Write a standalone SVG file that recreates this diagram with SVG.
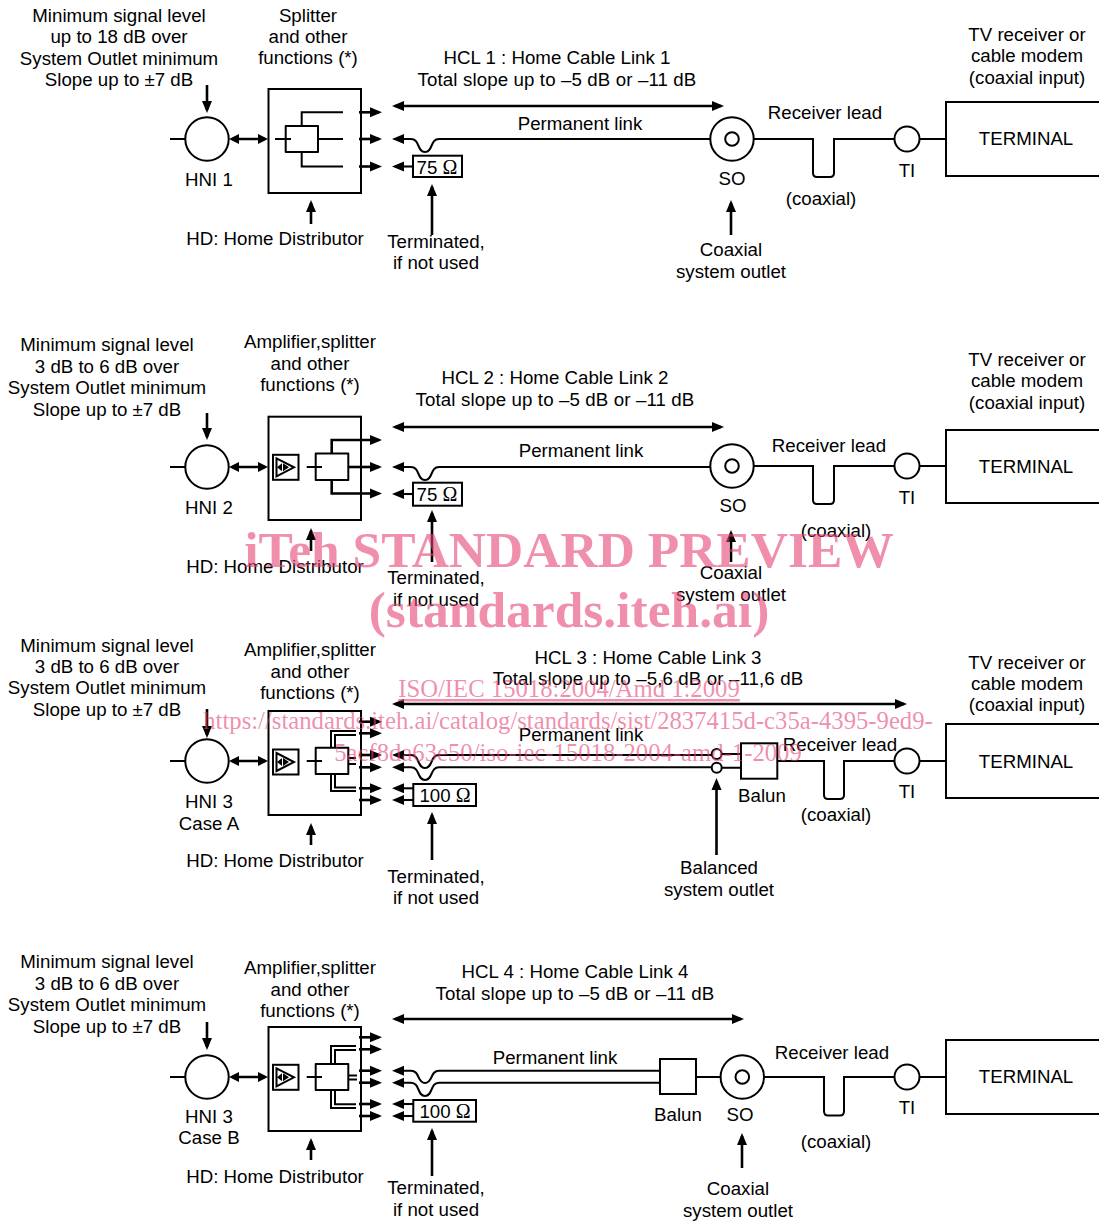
<svg xmlns="http://www.w3.org/2000/svg" width="1099" height="1221" viewBox="0 0 1099 1221">
<style>
text{font-family:"Liberation Sans",Arial,sans-serif;font-size:18.7px;fill:#000;text-anchor:middle}
.om{font-family:"Liberation Serif","Times New Roman",serif;font-size:20px}
.sp{letter-spacing:.12px}
.l{fill:none;stroke:#000;stroke-width:2}
.b{fill:#fff;stroke:#000;stroke-width:2}
.t{fill:none;stroke:#000;stroke-width:2;stroke-linejoin:round}
.a{fill:none;stroke:#000;stroke-width:2.6;marker-end:url(#ah)}
.aa{fill:none;stroke:#000;stroke-width:2.6;marker-end:url(#ah);marker-start:url(#ah)}
.as{fill:none;stroke:#000;stroke-width:2.6;marker-end:url(#as);marker-start:url(#as)}
.s{fill:none;stroke:#000;stroke-width:2.1;marker-start:url(#ah)}
.wm{font-family:"Liberation Serif","Times New Roman",serif;fill:#e64475;fill-opacity:.6}
.w1{font-size:51.500px;font-weight:bold}
.w2{font-size:24.700px}
</style>
<defs>
<marker id="ah" markerUnits="userSpaceOnUse" markerWidth="14" markerHeight="12" refX="9" refY="5.500" orient="auto-start-reverse"><path d="M0,0.500L12,5.500L0,10.500z" fill="#000"/></marker>
<marker id="as" markerUnits="userSpaceOnUse" markerWidth="12" markerHeight="12" refX="7" refY="5.500" orient="auto-start-reverse"><path d="M0,0.500L10,5.500L0,10.500z" fill="#000"/></marker>
<g id="amp"><rect class="b" x="273" y="-12.500" width="25.500" height="25"/><path class="l" d="M276.500,-9L294,0L276.500,9z"/><path d="M277,0L282,-4V4zM289,0L283,-4V4z" fill="#000"/></g>
</defs>

<g id="hcl1-block">
<g id="hni1"><circle class="b" cx="207" cy="139" r="21.700"/><text x="209" y="186">HNI 1</text></g>
<g id="hd1"><rect class="b" x="268.500" y="89" width="92.500" height="104"/>
<path class="l" d="M275,139H291M318,139H343M301.700,126V112.300H343M301.700,152V166.500H343"/><rect class="t" x="285.700" y="126" width="32.300" height="26"/>
<text x="275" y="245">HD: Home Distributor</text></g>
<g id="term1a"><rect class="b" x="413" y="155.700" width="49" height="21.300"/><text x="437" y="174">75 <tspan class="om">Ω</tspan></text></g>
<g id="so1"><circle class="b" cx="732" cy="139" r="21.700"/><circle class="b" cx="732" cy="139" r="6.800"/><text x="732" y="185">SO</text></g>
<g id="ti1"><circle class="b" cx="907" cy="139" r="12.500"/><text x="907" y="177">TI</text></g>
<g id="terminal1"><rect class="b" x="946" y="102" width="160" height="74"/><text x="1026" y="145">TERMINAL</text></g>
<text x="119" y="22">Minimum signal level</text><text x="119" y="43">up to 18 dB over</text><text x="119" y="65">System Outlet minimum</text><text x="119" y="86">Slope up to ±7 dB</text>
<text x="308" y="22">Splitter</text><text x="308" y="43">and other</text><text x="308" y="64">functions (*)</text>
<text x="557" y="64">HCL 1 : Home Cable Link 1</text><text class="sp" x="557" y="86">Total slope up to –5 dB or –11 dB</text>
<text x="580" y="130">Permanent link</text><text x="825" y="119">Receiver lead</text><text x="821" y="205">(coaxial)</text>
<text x="1027" y="41">TV receiver or</text><text x="1027" y="62">cable modem</text><text x="1027" y="84">(coaxial input)</text>
<text x="436" y="248">Terminated,</text><text x="436" y="269">if not used</text><text x="731" y="256">Coaxial</text><text x="731" y="278">system outlet</text>
</g>

<g id="hcl2-block">
<g id="hni2"><circle class="b" cx="207" cy="467" r="21.700"/><text x="209" y="514">HNI 2</text></g>
<g id="hd2"><rect class="b" x="268.500" y="416.700" width="92.500" height="103.300"/>
<use href="#amp" y="467.300"/><path class="l" d="M306.700,467H322"/><rect class="t" x="315.700" y="453.500" width="32.600" height="26.500"/>
<text x="275" y="573">HD: Home Distributor</text></g>
<g id="term2a"><rect class="b" x="413" y="482.700" width="49" height="23"/><text x="437" y="501">75 <tspan class="om">Ω</tspan></text></g>
<g id="so2"><circle class="b" cx="732" cy="466" r="21.700"/><circle class="b" cx="732" cy="466" r="6.800"/><text x="733" y="512">SO</text></g>
<g id="ti2"><circle class="b" cx="907" cy="466" r="12.500"/><text x="907" y="504">TI</text></g>
<g id="terminal2"><rect class="b" x="946" y="430" width="160" height="73"/><text x="1026" y="473">TERMINAL</text></g>
<text x="107" y="351">Minimum signal level</text><text x="107" y="373">3 dB to 6 dB over</text><text x="107" y="394">System Outlet minimum</text><text x="107" y="416">Slope up to ±7 dB</text>
<text x="310" y="348">Amplifier,splitter</text><text x="310" y="370">and other</text><text x="310" y="391">functions (*)</text>
<text x="555" y="384">HCL 2 : Home Cable Link 2</text><text class="sp" x="555" y="406">Total slope up to –5 dB or –11 dB</text>
<text x="581" y="457">Permanent link</text><text x="829" y="452">Receiver lead</text><text x="836" y="537">(coaxial)</text>
<text x="1027" y="366">TV receiver or</text><text x="1027" y="387">cable modem</text><text x="1027" y="409">(coaxial input)</text>
<text x="436" y="584">Terminated,</text><text x="436" y="606">if not used</text><text x="731" y="579">Coaxial</text><text x="731" y="601">system outlet</text>
</g>

<g id="hcl3-block">
<g id="hni3a"><circle class="b" cx="207" cy="761" r="21.700"/><text x="209" y="808">HNI 3</text><text x="209" y="830">Case A</text></g>
<g id="hd3"><rect class="b" x="268.500" y="711" width="92.500" height="104"/>
<path class="l" d="M331,748V731H356M335,748V735H356M331,774V791H356M335,774V787.500H356M348,758H356M348,764H356M306.700,761H322"/>
<use href="#amp" y="762"/><rect class="t" x="315.700" y="747.700" width="32.600" height="26.300"/>
<text x="275" y="867">HD: Home Distributor</text></g>
<g id="term3a"><rect class="b" x="413.300" y="784" width="62.700" height="22"/><text x="445" y="802">100 <tspan class="om">Ω</tspan></text></g>
<g id="balun3"><rect class="b" x="741" y="743.300" width="36.300" height="35.400"/><text x="762" y="802">Balun</text></g>
<g id="ti3"><circle class="b" cx="907" cy="761" r="12.500"/><text x="907" y="798">TI</text></g>
<g id="terminal3"><rect class="b" x="946" y="724" width="160" height="74"/><text x="1026" y="768">TERMINAL</text></g>
<text x="107" y="652">Minimum signal level</text><text x="107" y="673">3 dB to 6 dB over</text><text x="107" y="694">System Outlet minimum</text><text x="107" y="716">Slope up to ±7 dB</text>
<text x="310" y="656">Amplifier,splitter</text><text x="310" y="678">and other</text><text x="310" y="699">functions (*)</text>
<text x="648" y="664">HCL 3 : Home Cable Link 3</text><text class="sp" x="648" y="685">Total slope up to –5,6 dB or –11,6 dB</text>
<text x="581" y="741">Permanent link</text><text x="840" y="751">Receiver lead</text><text x="836" y="821">(coaxial)</text>
<text x="1027" y="669">TV receiver or</text><text x="1027" y="690">cable modem</text><text x="1027" y="711">(coaxial input)</text>
<text x="436" y="883">Terminated,</text><text x="436" y="904">if not used</text><text x="719" y="874">Balanced</text><text x="719" y="896">system outlet</text>
</g>

<g id="hcl4-block">
<g id="hni3b"><circle class="b" cx="207" cy="1077" r="21.700"/><text x="209" y="1123">HNI 3</text><text x="209" y="1144">Case B</text></g>
<g id="hd4"><rect class="b" x="268.500" y="1027" width="92.500" height="104"/>
<path class="l" d="M331,1064V1046H356M335,1064V1050H356M331,1090V1108H356M335,1090V1104.300H356M348,1075.500H357M348,1079.500H357M306.700,1077H322"/>
<use href="#amp" y="1077.300"/><rect class="t" x="315.700" y="1064" width="32.600" height="26"/>
<text x="275" y="1183">HD: Home Distributor</text></g>
<g id="term4a"><rect class="b" x="413.300" y="1100" width="62.700" height="21.700"/><text x="445" y="1118">100 <tspan class="om">Ω</tspan></text></g>
<g id="balun4"><rect class="b" x="660" y="1059" width="36" height="35"/><text x="678" y="1121">Balun</text></g>
<g id="so4"><circle class="b" cx="742.300" cy="1077" r="21.700"/><circle class="b" cx="742.300" cy="1077" r="6.800"/><text x="740" y="1121">SO</text></g>
<g id="ti4"><circle class="b" cx="907" cy="1077" r="12.500"/><text x="907" y="1114">TI</text></g>
<g id="terminal4"><rect class="b" x="946" y="1040" width="160" height="74"/><text x="1026" y="1083">TERMINAL</text></g>
<text x="107" y="968">Minimum signal level</text><text x="107" y="990">3 dB to 6 dB over</text><text x="107" y="1011">System Outlet minimum</text><text x="107" y="1033">Slope up to ±7 dB</text>
<text x="310" y="974">Amplifier,splitter</text><text x="310" y="996">and other</text><text x="310" y="1017">functions (*)</text>
<text x="575" y="978">HCL 4 : Home Cable Link 4</text><text class="sp" x="575" y="1000">Total slope up to –5 dB or –11 dB</text>
<text x="555" y="1064">Permanent link</text><text x="832" y="1059">Receiver lead</text><text x="836" y="1148">(coaxial)</text>
<text x="436" y="1194">Terminated,</text><text x="436" y="1216">if not used</text><text x="738" y="1195">Coaxial</text><text x="738" y="1217">system outlet</text>
</g>

<g id="connectors">
<!-- panel 1 -->
<path class="l" d="M170,139H186"/>
<path class="a" d="M207,85V110"/>
<path class="as" d="M232,139H265"/>
<path class="a" d="M359,112.300H379"/><path class="a" d="M359,139H379"/><path class="a" d="M359,166.500H379"/>
<path class="aa" d="M395,106H721"/>
<path class="s" d="M395,139H411C420,139 417,152 425,152C433,152 430,139 439,139H711"/>
<path class="s" d="M395,166.500H413"/>
<path class="a" d="M432,235V187"/>
<path class="a" d="M311,224V203"/>
<path class="a" d="M731,235V203"/>
<path class="l" d="M753,139H813V173Q813,177 817,177H830Q834,177 834,173V139H895M919,139H946"/>
<!-- panel 2 -->
<path class="l" d="M170,467H186"/>
<path class="a" d="M207,413V437"/>
<path class="as" d="M232,467H265"/>
<path class="a" d="M331.700,453V440H379"/><path class="a" d="M348,467H379"/><path class="a" d="M331.700,480V493.500H379"/>
<path class="aa" d="M395,427H721"/>
<path class="s" d="M395,467H411C420,467 417,480 425,480C433,480 430,467 439,467H711"/>
<path class="s" d="M395,494H413"/>
<path class="a" d="M432,562V513"/>
<path class="a" d="M311,551V531"/>
<path class="a" d="M731,562V533"/>
<path class="l" d="M753,466H813V500Q813,504 817,504H830Q834,504 834,500V466H895M919,466H946"/>
<!-- panel 3 -->
<path class="l" d="M170,761H186"/>
<path class="a" d="M207,709V735"/>
<path class="as" d="M232,761H265"/>
<path class="a" d="M359,721.700H379"/><path class="a" d="M359,733.300H379"/><path class="a" d="M359,755H379"/><path class="a" d="M359,767.300H379"/><path class="a" d="M359,788.300H379"/><path class="a" d="M359,800H379"/>
<path class="aa" d="M395,704H904"/>
<path class="s" d="M395,755H411C420,755 417,768 425,768C433,768 430,755 439,755H712"/>
<path class="s" d="M395,767.300H411C420,767.300 417,780 425,780C433,780 430,767.300 439,767.300H712"/>
<path class="l" d="M721,754H741M721,767.700H741"/>
<path class="s" d="M395,788.300H413"/><path class="s" d="M395,800H413"/>
<path class="a" d="M716.500,855V781"/>
<path class="a" d="M432,860V815"/>
<path class="a" d="M311,845V826"/>
<path class="l" d="M777,761H824V795Q824,799 828,799H840Q844,799 844,795V761H895M919,761H946"/>
<!-- panel 4 -->
<path class="l" d="M170,1077H186"/>
<path class="a" d="M207,1022V1047"/>
<path class="as" d="M232,1077H265"/>
<path class="a" d="M359,1037.300H379"/><path class="a" d="M359,1049.300H379"/><path class="a" d="M359,1070.700H379"/><path class="a" d="M359,1082.700H379"/><path class="a" d="M359,1104H379"/><path class="a" d="M359,1116H379"/>
<path class="aa" d="M395,1019H741"/>
<path class="s" d="M395,1070.700H411C420,1070.700 417,1083 425,1083C433,1083 430,1070.700 439,1070.700H660"/>
<path class="s" d="M395,1082.700H411C420,1082.700 417,1096 425,1096C433,1096 430,1082.700 439,1082.700H660"/>
<path class="s" d="M395,1104H413"/><path class="s" d="M395,1116H413"/>
<path class="a" d="M432,1176V1131"/>
<path class="a" d="M311,1160V1141"/>
<path class="a" d="M742,1168V1136"/>
<path class="l" d="M696,1077H721M764,1077H824V1111Q824,1115.500 828,1115.500H840Q844,1115.500 844,1111V1077H895M919,1077H946"/>
</g>

<g id="outlet3"><circle class="b" cx="716.700" cy="754" r="5"/><circle class="b" cx="716.700" cy="767.700" r="5"/></g>

<g id="watermark">
<text class="wm w1" x="569" y="566.500">iTeh STANDARD PREVIEW</text>
<text class="wm w1" x="569" y="627">(standards.iteh.ai)</text>
<text class="wm w2" x="569" y="697" text-decoration="underline">ISO/IEC 15018:2004/Amd 1:2009</text>
<text class="wm w2" x="568" y="729">https://standards.iteh.ai/catalog/standards/sist/2837415d-c35a-4395-9ed9-</text>
<text class="wm w2" x="568" y="761">5acf8da63e50/iso-iec-15018-2004-amd-1-2009</text>
</g>
</svg>
